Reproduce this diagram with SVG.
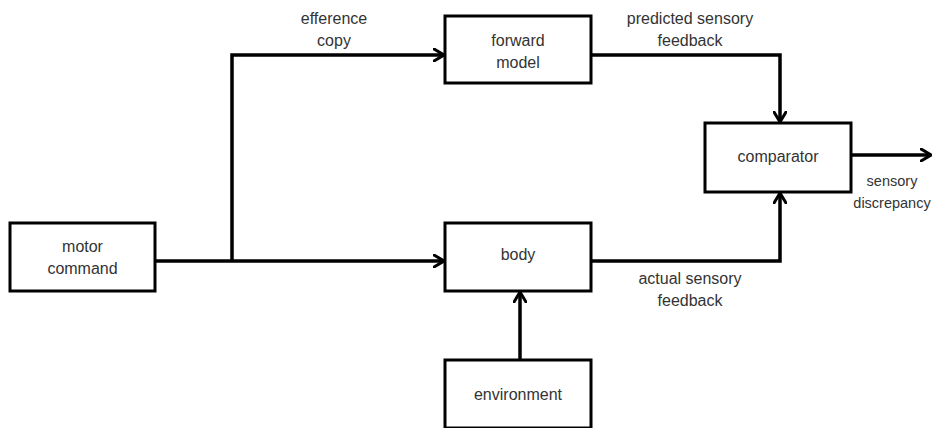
<svg xmlns="http://www.w3.org/2000/svg" width="934" height="428" viewBox="0 0 934 428">
<defs>
<marker id="arr" viewBox="0 0 12 14" refX="11" refY="7" markerWidth="12" markerHeight="14" markerUnits="userSpaceOnUse" orient="auto">
<path d="M1,1 L11,7 L1,13" fill="none" stroke="#000" stroke-width="3" stroke-linecap="round" stroke-linejoin="miter"/>
</marker>
</defs>
<style>
.box{fill:#fff;stroke:#000;stroke-width:3}
.t{font-family:"Liberation Sans",Arial,sans-serif;font-size:16px;fill:#333;text-anchor:middle}
.s{font-size:14.5px}
.c{fill:none;stroke:#000;stroke-width:3.5}
</style>
<rect width="934" height="428" fill="#fff"/>
<g id="connectors">
<path class="c" d="M155,261 H444" marker-end="url(#arr)"/>
<path class="c" d="M232,261 V55 H444" marker-end="url(#arr)"/>
<path class="c" d="M591,55 H780 V122" marker-end="url(#arr)"/>
<path class="c" d="M591,261 H780 V193" marker-end="url(#arr)"/>
<path class="c" d="M520,360 V292" marker-end="url(#arr)"/>
<path class="c" d="M851,155 H931" marker-end="url(#arr)"/>
<text class="t" x="334" y="24">efference</text>
<text class="t" x="334" y="46">copy</text>
<text class="t" x="690" y="24">predicted sensory</text>
<text class="t" x="690" y="46">feedback</text>
<text class="t" x="690" y="284">actual sensory</text>
<text class="t" x="690" y="306">feedback</text>
<text class="t s" x="892" y="186">sensory</text>
<text class="t s" x="892" y="208">discrepancy</text>
</g>
<g id="motor-command">
<rect class="box" x="10" y="223" width="145" height="68"/>
<text class="t" x="82.5" y="252">motor</text>
<text class="t" x="82.5" y="274">command</text>
</g>
<g id="forward-model">
<rect class="box" x="445" y="16" width="146" height="67"/>
<text class="t" x="518" y="46">forward</text>
<text class="t" x="518" y="68">model</text>
</g>
<g id="comparator">
<rect class="box" x="705" y="123" width="146" height="69"/>
<text class="t" x="778" y="162">comparator</text>
</g>
<g id="body">
<rect class="box" x="445" y="223" width="146" height="68"/>
<text class="t" x="518" y="260">body</text>
</g>
<g id="environment">
<rect class="box" x="445" y="360" width="146" height="68"/>
<text class="t" x="518" y="400">environment</text>
</g>
</svg>
